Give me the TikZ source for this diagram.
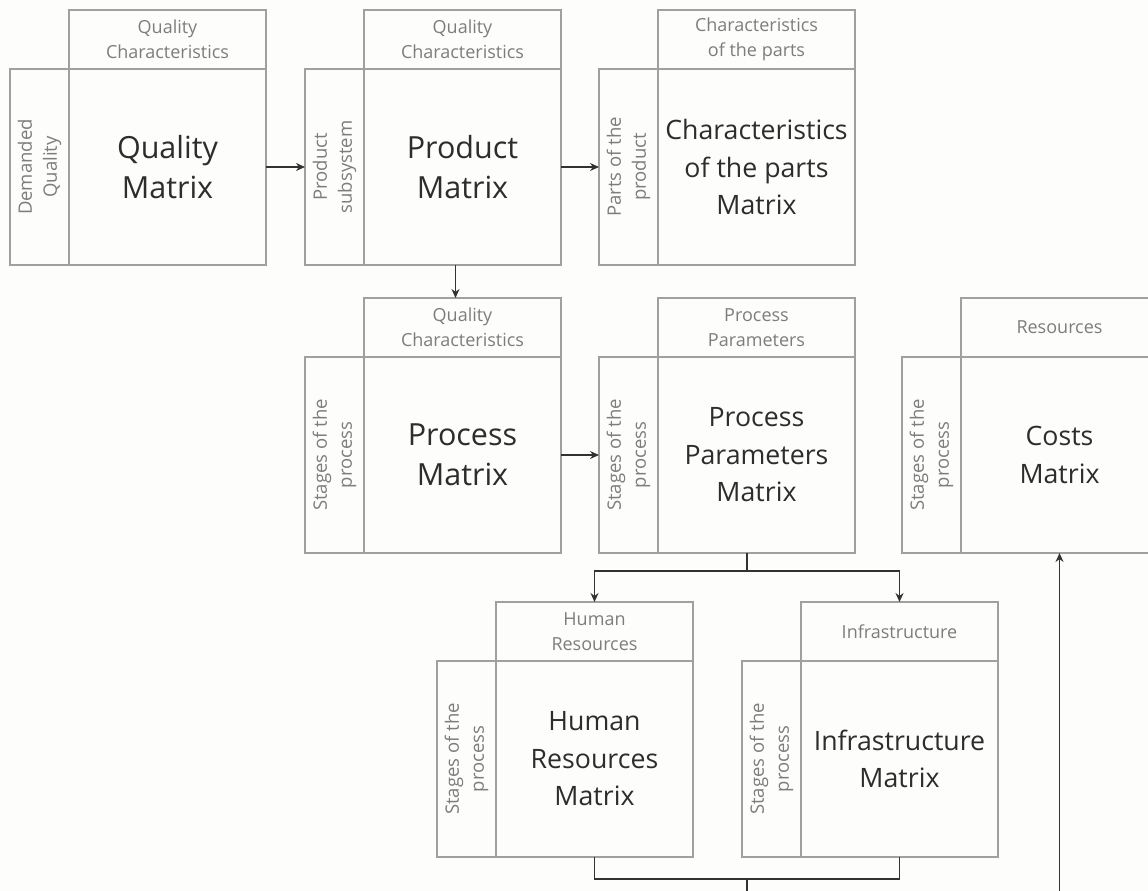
\documentclass[tikz,border=0pt]{standalone}
\usepackage{fontspec}
\setmainfont{Open Sans}
\usetikzlibrary{positioning,arrows.meta,calc}
\definecolor{boxgray}{RGB}{160,160,160}
\definecolor{labgray}{RGB}{125,125,125}
\definecolor{txtdark}{RGB}{45,45,45}
\definecolor{linedark}{RGB}{50,50,50}
\definecolor{paper}{RGB}{253,253,251}

\begin{document}
\begin{tikzpicture}[
		x=1pt, y=-1pt,
		mainbox/.style={draw=boxgray, line width=1.4pt, minimum width=197pt, minimum height=196pt,
			inner sep=0pt, outer sep=0pt, anchor=north west, align=center, text=txtdark,
			font=\fontsize{30.5}{40}\selectfont},
		smallmain/.style={mainbox, font=\fontsize{26.7}{37.5}\selectfont},
		headbox/.style={draw=boxgray, line width=1.4pt, minimum width=197pt, minimum height=59pt,
			inner sep=0pt, outer sep=0pt, align=center, text=labgray,
			font=\fontsize{18}{25}\selectfont},
		sidebox/.style={draw=boxgray, line width=1.4pt, minimum width=196pt, minimum height=59pt,
			inner sep=0pt, outer sep=0pt, rotate=90, anchor=south, align=center, text=labgray,
			font=\fontsize{18.5}{25}\selectfont},
		conn/.style={draw=linedark, line width=1.4pt},
		arrow/.style={conn, -{Stealth[length=9pt,width=8pt]}}
		]
		\useasboundingbox (0,0) rectangle (1148,891);
		\fill[paper] (0,0) rectangle (1148,891);
		\clip (0,0) rectangle (1148,891);

		% first row
		\node[mainbox] (qm) at (69,69) {Quality\\Matrix};
		\node[headbox, above=0pt of qm] (qh) {Quality\\Characteristics};
		\node[sidebox] (qs) at (qm.west) {Demanded\\Quality};

		\node[mainbox] (pm) at (364,69) {Product\\Matrix};
		\node[headbox, above=0pt of pm] (ph) {Quality\\Characteristics};
		\node[sidebox] (ps) at (pm.west) {Product\\subsystem};

		\node[smallmain] (cm) at (658,69) {Characteristics\\of the parts\\Matrix};
		\node[headbox, above=0pt of cm] (ch) {Characteristics\\of the parts};
		\node[sidebox] (cs) at (cm.west) {Parts of the\\product};

		% second row
		\node[mainbox] (prm) at (364,357) {Process\\Matrix};
		\node[headbox, above=0pt of prm] (prh) {Quality\\Characteristics};
		\node[sidebox] (prs) at (prm.west) {Stages of the\\process};

		\node[smallmain] (ppm) at (658,357) {Process\\Parameters\\Matrix};
		\node[headbox, above=0pt of ppm] (pph) {Process\\Parameters};
		\node[sidebox] (pps) at (ppm.west) {Stages of the\\process};

		\node[smallmain] (com) at (961,357) {Costs\\Matrix};
		\node[headbox, above=0pt of com] (coh) {Resources};
		\node[sidebox] (cos) at (com.west) {Stages of the\\process};

		% third row
		\node[smallmain] (hrm) at (496,661) {Human\\Resources\\Matrix};
		\node[headbox, above=0pt of hrm] (hrh) {Human\\Resources};
		\node[sidebox] (hrs) at (hrm.west) {Stages of the\\process};

		\node[smallmain] (inm) at (801,661) {Infrastructure\\Matrix};
		\node[headbox, above=0pt of inm] (inh) {Infrastructure};
		\node[sidebox] (ins) at (inm.west) {Stages of the\\process};

		% connectors
		\draw[arrow] (qm.east) -- (ps.north);
		\draw[arrow] (pm.east) -- (cs.north);
		\draw[arrow] ([xshift=-7pt]pm.south) -- ([xshift=-7pt]prh.north);
		\draw[arrow] (prm.east) -- (pps.north);

		\coordinate (split) at ($(hrh.north)!0.5!(inh.north)+(0,-31)$);
		\draw[conn] (split |- ppm.south) -- (split);
		\draw[arrow] (split) -| (hrh.north);
		\draw[arrow] (split) -| (inh.north);

		\coordinate (join) at ($(hrm.south)!0.5!(inm.south)+(0,22)$);
		\draw[conn] (hrm.south) |- (join) -| (inm.south);
		\draw[arrow] (join) -- ++(0,40) -| (com.south);
	\end{tikzpicture}
\end{document}
